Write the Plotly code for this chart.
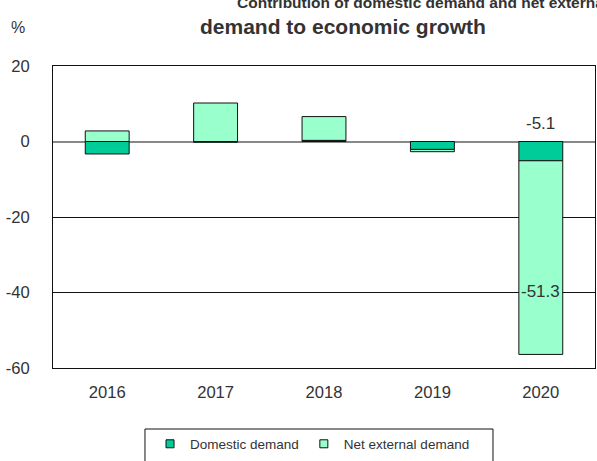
import plotly.graph_objects as go

years = ["2016", "2017", "2018", "2019", "2020"]
domestic = [-3.3, -0.2, 0.3, -2.1, -5.1]
net_external = [2.8, 10.2, 6.3, -0.6, -51.3]
series_names = ["Domestic demand", "Net external demand"]
colors = ["#00CC99", "#99FFCC"]
y_ticks = [20, 0, -20, -40, -60]
y_tick_text = ["20", "0", "-20", "-40", "-60"]
label_2020 = ["-5.1", "-51.3"]

FONT = "Liberation Sans, Arial, sans-serif"
TXT = "#333333"

fig = go.Figure()
for name, vals, col in zip(series_names, [domestic, net_external], colors):
    fig.add_trace(go.Bar(x=years, y=vals, name=name, marker=dict(color=col, line=dict(color="#111111", width=1)),
                         width=0.405, showlegend=False))
    fig.add_trace(go.Scatter(x=[None], y=[None], mode="markers", name=name,
                             marker=dict(symbol="square", size=8, color=col, line=dict(color="#111111", width=1))))

fig.update_layout(
    xaxis2=dict(overlaying="x", anchor="free", position=0.75, side="top", range=[-0.5, 4.5],
                tickmode="array", tickvals=[0.5, 1.5, 2.5, 3.5], ticks="outside", ticklen=4,
                tickcolor="#888888", tickwidth=1, showticklabels=False, showgrid=False,
                showline=False, zeroline=False, automargin=False),
)

idx_2020 = years.index("2020")
fig.update_layout(
    width=597, height=461,
    margin=dict(l=53, r=2, t=66, b=93, autoexpand=False),
    paper_bgcolor="white", plot_bgcolor="white",
    barmode="relative",
    showlegend=True,
    legend=dict(orientation="h", x=0.179, y=-0.2517, xanchor="left", yanchor="middle",
                font=dict(family=FONT, size=13.5, color=TXT), bgcolor="rgba(0,0,0,0)",
                itemwidth=30),
    xaxis=dict(type="category", range=[-0.5, 4.5], showgrid=False, zeroline=False,
               showline=True, linecolor="#111111", linewidth=1, mirror=True, ticks="",
               tickfont=dict(family=FONT, size=16.6, color=TXT), ticklabelstandoff=9,
               automargin=False),
    yaxis=dict(range=[-60, 20], tickvals=y_ticks, ticktext=y_tick_text, showgrid=True,
               gridcolor="#111111", gridwidth=1,
               zeroline=True, zerolinecolor="#888888", zerolinewidth=1.5,
               showline=True, linecolor="#111111", linewidth=1, mirror=True, ticks="",
               tickfont=dict(family=FONT, size=16.6, color=TXT), ticklabelstandoff=19,
               automargin=False),
    annotations=[
        dict(text="%", xref="paper", yref="paper", x=-0.0646, y=1.129, xanchor="center", yanchor="middle",
             showarrow=False, font=dict(family=FONT, size=16, color=TXT)),
        dict(text="<b>Contribution of domestic demand and net external</b>", xref="paper", yref="paper",
             x=0.3358, y=1.211, xanchor="left", yanchor="middle", showarrow=False,
             font=dict(family=FONT, size=15.5, color=TXT)),
        dict(text="<b>demand to economic growth</b>", xref="paper", yref="paper",
             x=0.535, y=1.131, xanchor="center", yanchor="middle", showarrow=False,
             font=dict(family=FONT, size=21, color=TXT)),
        dict(text=label_2020[0], x=idx_2020, y=4.7, xref="x", yref="y", showarrow=False,
             font=dict(family=FONT, size=17, color=TXT)),
        dict(text=label_2020[1], x=idx_2020, y=-39.8, xref="x", yref="y", showarrow=False,
             font=dict(family=FONT, size=17, color=TXT)),
    ],
    shapes=[dict(type="rect", xref="paper", yref="paper", x0=0.1697, x1=0.8118, y0=-0.202, y1=-0.36,
                 line=dict(color="#111111", width=1), fillcolor="rgba(0,0,0,0)")],
)

fig.write_html("out.html", config={"displayModeBar": False},
               post_script="document.body.style.margin='0';")
